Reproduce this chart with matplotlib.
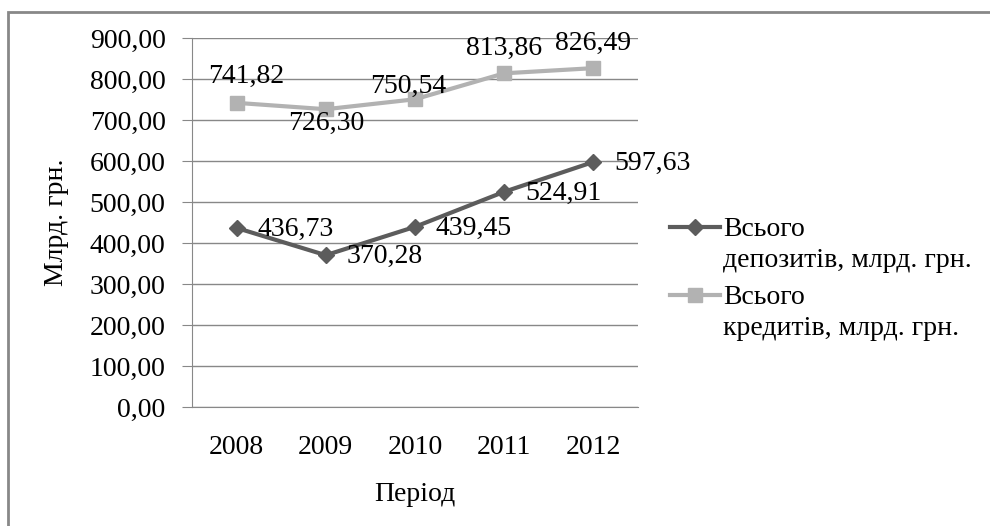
import matplotlib
matplotlib.use("Agg")
import matplotlib.pyplot as plt
from matplotlib.lines import Line2D
from matplotlib.patches import Rectangle
from matplotlib.ticker import FuncFormatter

plt.rcParams['font.family'] = ['Liberation Serif', 'DejaVu Serif']

# data
years = ['2008', '2009', '2010', '2011', '2012']
deposits = [436.73, 370.28, 439.45, 524.91, 597.63]
credits = [741.82, 726.30, 750.54, 813.86, 826.49]
dep_label = 'Всього'
dep_label2 = 'депозитів, млрд. грн.'
cred_label = 'Всього'
cred_label2 = 'кредитів, млрд. грн.'

dark = '#5c5c5c'
light = '#b2b2b2'
grid = '#888888'
FS = 20

def fmt(v):
    return f"{v:.2f}".replace('.', ',')

fig = plt.figure(figsize=(9.9, 5.26), dpi=100)
ax = fig.add_axes([192/990, 1 - 407/526, 446/990, 369/526])

x = list(range(len(years)))
ax.plot(x, deposits, color=dark, lw=3, marker='D', ms=8, zorder=3)
ax.plot(x, credits, color=light, lw=3, marker='s', ms=10, zorder=3)

# data labels
for i, v in enumerate(deposits):
    ax.annotate(fmt(v), (i, v), xytext=(15, -1), textcoords='offset points',
                ha='left', va='center', fontsize=FS)
cred_off = [(7, 19), (0, -10), (-5, 9), (0, 18), (0, 18)]
for i, v in enumerate(credits):
    ax.annotate(fmt(v), (i, v), xytext=cred_off[i], textcoords='offset points',
                ha='center', va='center', fontsize=FS)

ax.set_xlim(-0.5, len(years) - 0.5)
ax.set_ylim(0, 900)
ax.set_yticks(range(0, 901, 100))
ax.yaxis.set_major_formatter(FuncFormatter(lambda v, p: fmt(v)))
ax.set_xticks(x)
ax.set_xticklabels(years)
ax.tick_params(axis='y', length=7, color=grid, pad=12, labelsize=FS)
ax.tick_params(axis='x', length=0, pad=20, labelsize=FS)
ax.grid(axis='y', color=grid, lw=1)
ax.set_axisbelow(True)
for s in ['top', 'right']:
    ax.spines[s].set_visible(False)
for s in ['left', 'bottom']:
    ax.spines[s].set_color(grid)
ax.set_xlabel('Період', fontsize=FS, labelpad=16)
ax.set_ylabel('Млрд. грн.', fontsize=FS, labelpad=15)

# legend: one block per series, first line next to the marker
blank = Line2D([], [], color='none')
legend_kw = dict(loc='upper left', frameon=False, fontsize=FS, handlelength=1.8,
                 handletextpad=0.12, labelspacing=0.18, borderaxespad=0, borderpad=0)
fig.legend([Line2D([], [], color=dark, lw=3, marker='D', ms=8), blank],
           [dep_label, dep_label2], bbox_to_anchor=(670/990, 1 - 217/526), **legend_kw)
fig.legend([Line2D([], [], color=light, lw=3, marker='s', ms=10), blank],
           [cred_label, cred_label2], bbox_to_anchor=(670/990, 1 - 285/526), **legend_kw)

fig.patches.append(Rectangle((8/990, -0.1), 1.2, 1.1 - 12/526, transform=fig.transFigure,
                             fill=False, edgecolor=grid, lw=2))

fig.savefig('out.png', dpi=100)
